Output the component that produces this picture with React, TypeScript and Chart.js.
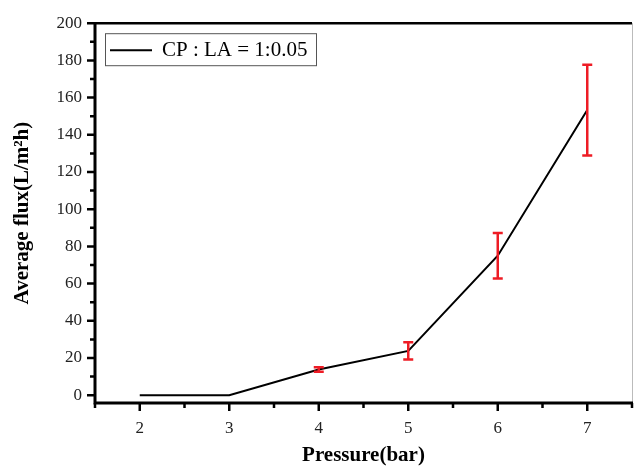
import React, { useEffect, useRef } from "react";
import { Chart, registerables } from "chart.js";

Chart.register(...registerables);

const pressures = [2, 3, 4, 5, 6, 7];
const flux = [0, 0, 13.8, 23.8, 75, 153.3];
const fluxErr = [0, 0, 1.2, 4.6, 12.2, 24.4];
const xTickValues = [2, 3, 4, 5, 6, 7];
const xMinorValues = [1.5, 2.5, 3.5, 4.5, 5.5, 6.5, 7.5];
const yTickValues = [0, 20, 40, 60, 80, 100, 120, 140, 160, 180, 200];
const yMinorValues = [10, 30, 50, 70, 90, 110, 130, 150, 170, 190];
const seriesLabel = "CP : LA = 1:0.05";
const xTitle = "Pressure(bar)";
const yTitle = "Average flux(L/m\u00B2h)";

const SERIF = "'Liberation Serif', 'Times New Roman', serif";

const decorPlugin = {
  id: "decor",
  afterDatasetsDraw(chart: any) {
    const ctx = chart.ctx;
    const xs = chart.scales.x;
    const ys = chart.scales.y;
    const area = chart.chartArea;
    ctx.save();
    // error bars
    ctx.strokeStyle = "#ee1c25";
    ctx.lineWidth = 2.5;
    pressures.forEach((p, i) => {
      const e = fluxErr[i];
      if (!e) return;
      const x = xs.getPixelForValue(p);
      const y1 = ys.getPixelForValue(flux[i] + e);
      const y2 = ys.getPixelForValue(flux[i] - e);
      ctx.beginPath();
      ctx.moveTo(x, y1);
      ctx.lineTo(x, y2);
      ctx.moveTo(x - 5, y1);
      ctx.lineTo(x + 5, y1);
      ctx.moveTo(x - 5, y2);
      ctx.lineTo(x + 5, y2);
      ctx.stroke();
    });
    // frame: top and right
    ctx.strokeStyle = "#000";
    ctx.lineWidth = 2.5;
    ctx.beginPath();
    ctx.moveTo(area.left, area.top);
    ctx.lineTo(area.right, area.top);
    ctx.stroke();
    ctx.strokeStyle = "#bbb";
    ctx.lineWidth = 1;
    ctx.beginPath();
    ctx.moveTo(area.right + 0.5, area.top);
    ctx.lineTo(area.right + 0.5, area.bottom);
    ctx.stroke();
    // left and bottom axes
    ctx.strokeStyle = "#000";
    ctx.lineWidth = 3;
    ctx.beginPath();
    ctx.moveTo(area.left, area.top - 1);
    ctx.lineTo(area.left, area.bottom);
    ctx.lineTo(area.right + 1, area.bottom);
    ctx.stroke();
    // ticks
    ctx.lineWidth = 2.5;
    ctx.beginPath();
    yTickValues.forEach((v) => {
      const y = ys.getPixelForValue(v);
      ctx.moveTo(area.left - 8, y);
      ctx.lineTo(area.left, y);
    });
    yMinorValues.forEach((v) => {
      const y = ys.getPixelForValue(v);
      ctx.moveTo(area.left - 5, y);
      ctx.lineTo(area.left, y);
    });
    xTickValues.forEach((v) => {
      const x = xs.getPixelForValue(v);
      ctx.moveTo(x, area.bottom);
      ctx.lineTo(x, area.bottom + 8);
    });
    xMinorValues.forEach((v) => {
      const x = xs.getPixelForValue(v);
      ctx.moveTo(x, area.bottom);
      ctx.lineTo(x, area.bottom + 5);
    });
    ctx.stroke();
    // legend
    const bx = area.left + 10;
    const by = area.top + 10;
    const bw = 211;
    const bh = 32;
    ctx.fillStyle = "#fff";
    ctx.fillRect(bx, by, bw, bh);
    ctx.strokeStyle = "#555";
    ctx.lineWidth = 1;
    ctx.strokeRect(bx + 0.5, by + 0.5, bw, bh);
    ctx.strokeStyle = "#000";
    ctx.lineWidth = 2;
    ctx.beginPath();
    ctx.moveTo(bx + 5, by + 17);
    ctx.lineTo(bx + 47, by + 17);
    ctx.stroke();
    ctx.fillStyle = "#000";
    ctx.font = `21px ${SERIF}`;
    ctx.textBaseline = "middle";
    ctx.textAlign = "left";
    ctx.fillText(chart.data.datasets[0].label, bx + 57, by + 17);
    ctx.restore();
  },
};

export default function App() {
  const ref = useRef<HTMLCanvasElement | null>(null);
  useEffect(() => {
    document.body.style.margin = "0";
    const canvas = ref.current;
    if (!canvas) return;
    const chart = new Chart(canvas, {
      type: "line",
      data: {
        datasets: [
          {
            label: seriesLabel,
            data: pressures.map((p, i) => ({ x: p, y: flux[i] })),
            borderColor: "#000",
            borderWidth: 2,
            pointRadius: 0,
            tension: 0,
            fill: false,
          },
        ],
      },
      options: {
        responsive: false,
        animation: false,
        devicePixelRatio: 1,
        layout: { padding: { top: 18, right: 2, left: 0, bottom: 0 } },
        plugins: {
          legend: { display: false },
          tooltip: { enabled: false },
        },
        scales: {
          x: {
            type: "linear",
            min: 1.5,
            max: 7.5,
            afterBuildTicks: (s: any) => {
              s.ticks = xTickValues.map((v) => ({ value: v }));
            },
            afterFit: (s: any) => {
              s.height = 65;
            },
            grid: { display: false, drawTicks: false },
            border: { display: false },
            ticks: {
              autoSkip: false,
              maxRotation: 0,
              padding: 15,
              color: "#222",
              font: { family: SERIF, size: 17 },
            },
            title: {
              display: true,
              text: xTitle,
              color: "#000",
              font: { family: SERIF, size: 21, weight: "bold" },
              padding: { top: 0, bottom: 0 },
            },
          },
          y: {
            type: "linear",
            min: -4.2,
            max: 200,
            afterBuildTicks: (s: any) => {
              s.ticks = yTickValues.map((v) => ({ value: v }));
            },
            afterFit: (s: any) => {
              s.width = 95;
            },
            grid: { display: false, drawTicks: false },
            border: { display: false },
            ticks: {
              autoSkip: false,
              padding: 13,
              color: "#222",
              font: { family: SERIF, size: 17 },
            },
            title: {
              display: true,
              text: yTitle,
              color: "#000",
              font: { family: SERIF, size: 21, weight: "bold" },
              padding: { top: 10, bottom: 0 },
            },
          },
        },
      },
      plugins: [decorPlugin],
    });
    return () => chart.destroy();
  }, []);
  return (
    <div style={{ position: "absolute", left: 0, top: 0, width: 634, height: 468, background: "#fff" }}>
      <canvas ref={ref} width={634} height={468} style={{ width: 634, height: 468 }} />
    </div>
  );
}
